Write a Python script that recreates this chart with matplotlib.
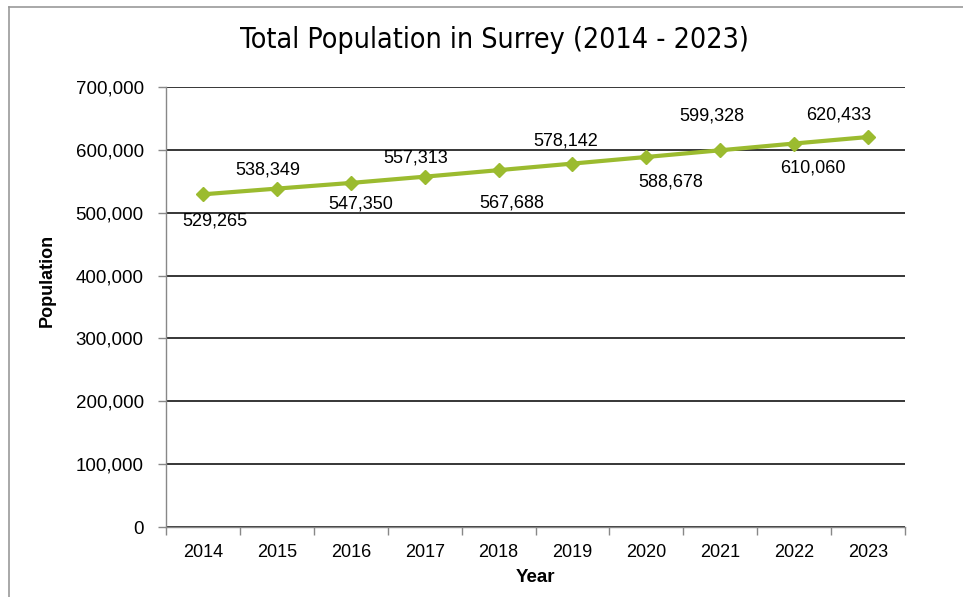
import matplotlib
matplotlib.use("Agg")
import matplotlib.pyplot as plt
from matplotlib.lines import Line2D
from matplotlib.ticker import FuncFormatter, FixedLocator

plt.rcParams.update({"font.family": ["Liberation Sans", "DejaVu Sans"]})

years = ["2014", "2015", "2016", "2017", "2018", "2019", "2020", "2021", "2022", "2023"]
population = [529265, 538349, 547350, 557313, 567688, 578142, 588678, 599328, 610060, 620433]

# label placement (pixels from the marker), alternating below / above the line
label_dx = [12, -9, 10, -9, 13, -7, 24, -8, 19, -29]
label_dy = [-27, 19, -21, 19, -33, 23, -25, 34, -24, 22]

GREEN = "#9bbb2f"

fig = plt.figure(figsize=(9.63, 5.97), dpi=100)
ax = fig.add_axes([166 / 963, 1 - 527 / 597, (905 - 166) / 963, (527 - 87) / 597])

x = list(range(len(years)))
ax.plot(x, population, color=GREEN, lw=3, marker="D", ms=7.5, zorder=4, clip_on=False)

for i, v in enumerate(population):
    ax.annotate(f"{v:,}", (x[i], v), xytext=(label_dx[i], label_dy[i]),
                textcoords="offset pixels", ha="center", va="center", fontsize=13)

ax.set_xlim(-0.5, len(years) - 0.5)
ax.set_ylim(0, 700000)
ax.yaxis.set_major_locator(FixedLocator(range(0, 700001, 100000)))
ax.yaxis.set_major_formatter(FuncFormatter(lambda v, _: f"{int(v):,}"))
ax.grid(axis="y", color="black", lw=1.1)
ax.set_axisbelow(True)

# Excel-style category axis: ticks between categories, labels centred
ax.xaxis.set_major_locator(FixedLocator([i - 0.5 for i in range(len(years) + 1)]))
ax.xaxis.set_major_formatter(FuncFormatter(lambda v, _: ""))
ax.xaxis.set_minor_locator(FixedLocator(x))
ax.set_xticks(x, years, minor=True)
ax.tick_params(axis="x", which="minor", length=0, pad=12, labelsize=13)
ax.tick_params(axis="x", which="major", length=6, color="#888888", width=1)
ax.tick_params(axis="y", length=6, color="#888888", width=1, pad=10, labelsize=13.5)

for side in ("top", "right"):
    ax.spines[side].set_visible(False)
for side in ("left", "bottom"):
    ax.spines[side].set_color("#888888")
    ax.spines[side].set_linewidth(1)
ax.spines["bottom"].set_zorder(3)

fig.text(47 / 963, 1 - 280 / 597, "Population", rotation=90, ha="center", va="center",
         fontsize=13, fontweight="bold")
fig.text(535 / 963, 1 - 578 / 597, "Year", ha="center", va="center",
         fontsize=13.5, fontweight="bold")
fig.text(494 / 963, 1 - 40 / 597, "Total Population in Surrey (2014 - 2023)",
         ha="center", va="center", fontsize=20.5, family="DejaVu Sans",
         fontstretch="condensed")

# chart-area frame
fig.add_artist(Line2D([9 / 963, 9 / 963], [0, 1 - 7 / 597], color="#999999", lw=1.2))
fig.add_artist(Line2D([9 / 963, 1], [1 - 7 / 597, 1 - 7 / 597], color="#999999", lw=1.2))

fig.savefig("out.png", dpi=100)
